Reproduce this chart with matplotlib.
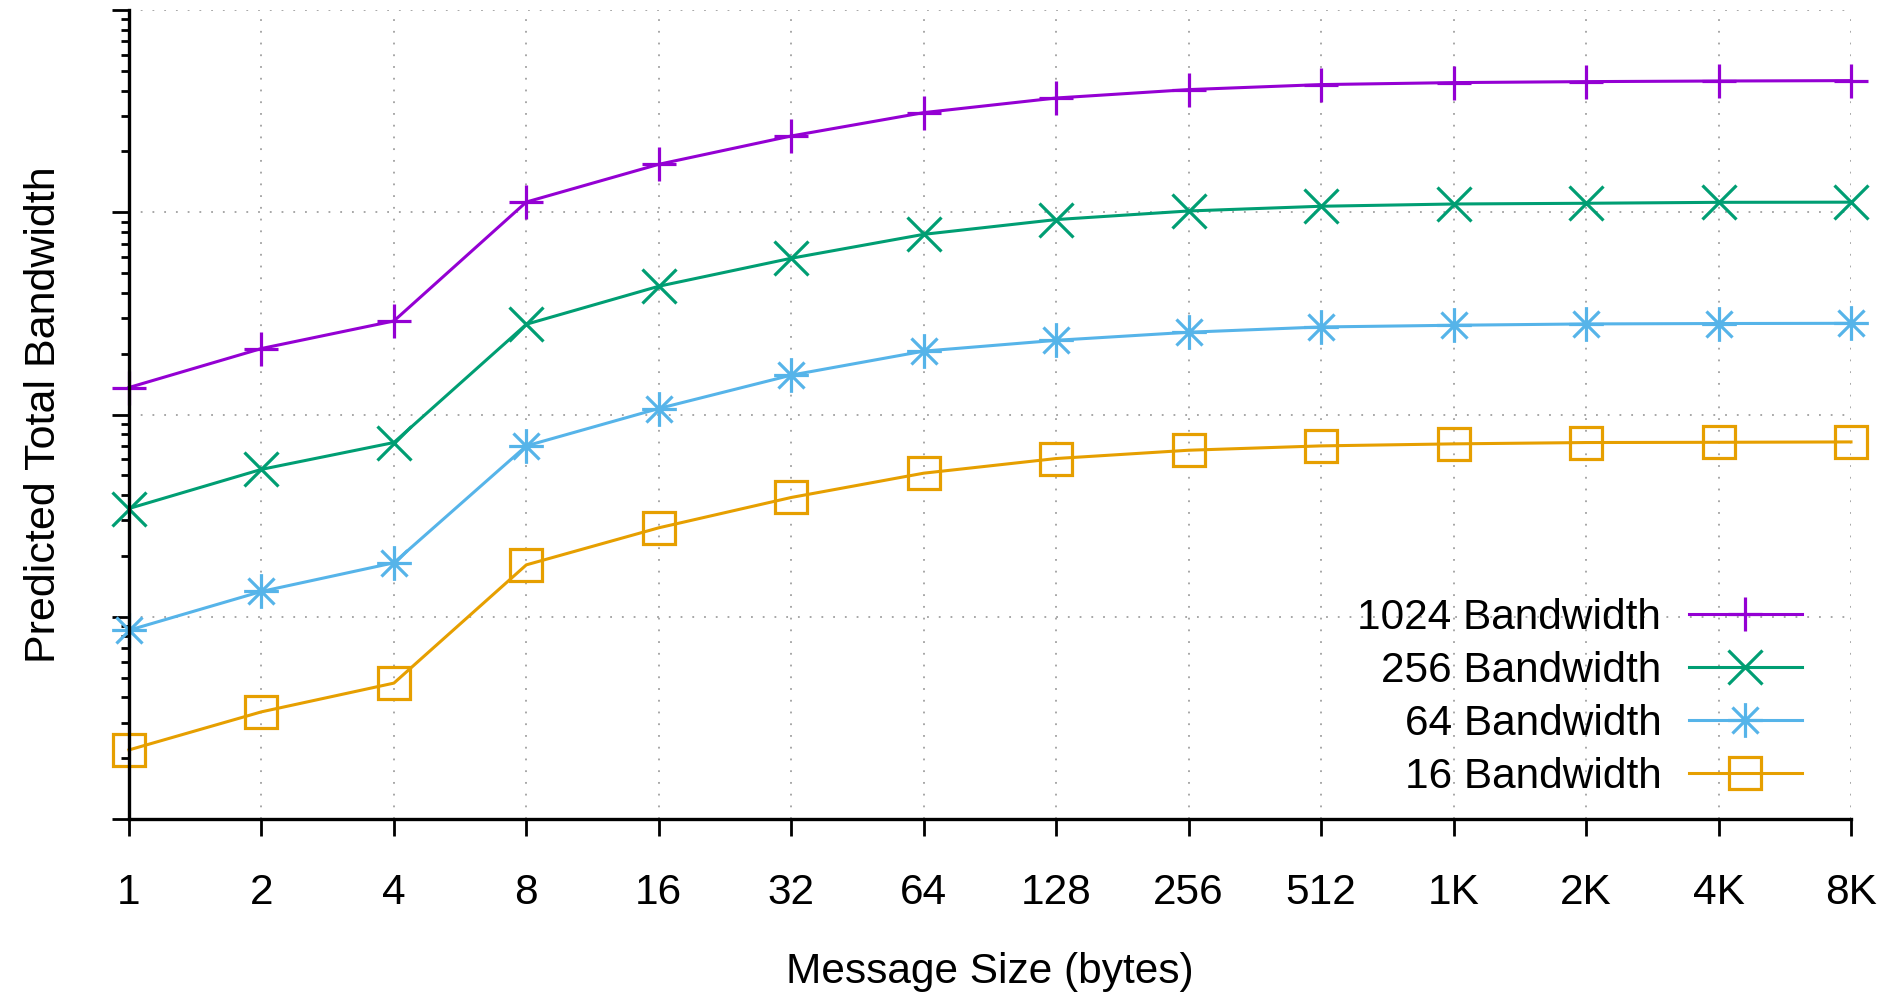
import numpy as np
import matplotlib.pyplot as plt
from matplotlib.path import Path

# message sizes (bytes) and their tick labels
sizes = [1, 2, 4, 8, 16, 32, 64, 128, 256, 512, 1024, 2048, 4096, 8192]
size_labels = ['1', '2', '4', '8', '16', '32', '64', '128', '256', '512',
               '1K', '2K', '4K', '8K']

# predicted total bandwidth (arbitrary units)
bw_1024 = [136.0, 212.0, 290.1, 1124, 1727, 2384, 3110, 3673, 4042, 4279,
           4377, 4426, 4457, 4477]
bw_256 = [34.30, 53.55, 72.70, 279.5, 430.8, 592.5, 778.0, 920.4, 1015, 1071,
          1099, 1108, 1120, 1122]
bw_64 = [8.58, 13.34, 18.49, 69.98, 107.1, 156.6, 205.8, 232.8, 255.2, 271.0,
         276.3, 280.5, 281.8, 282.5]
bw_16 = [2.196, 3.388, 4.699, 18.06, 27.54, 38.9, 51.29, 60.6, 66.6, 69.98,
         71.6, 72.7, 72.9, 73.2]

plt.rcParams['font.family'] = ['Liberation Sans', 'DejaVu Sans']
plt.rcParams['font.size'] = 30.5

# gnuplot style asterisk: + and x on top of each other
star = Path([(-1, 0), (1, 0), (0, -1), (0, 1),
             (-0.75, -0.75), (0.75, 0.75), (-0.75, 0.75), (0.75, -0.75)],
            [Path.MOVETO, Path.LINETO] * 4)

fig = plt.figure(figsize=(18.88, 9.93), dpi=100)
ax = fig.add_axes([0.0683, 0.1752, 0.9804 - 0.0683, 0.9899 - 0.1752])

ax.plot(sizes, bw_1024, color='#9400d3', lw=2.2, marker='+', ms=24, mew=2.3,
        label='1024 Bandwidth', clip_on=False)
ax.plot(sizes, bw_256, color='#009e73', lw=2.2, marker='x', ms=24, mew=2.3,
        label='256 Bandwidth', clip_on=False)
ax.plot(sizes, bw_64, color='#56b4e9', lw=2.2, marker=star, ms=25, mew=2.3,
        label='64 Bandwidth', clip_on=False)
ax.plot(sizes, bw_16, color='#e69f00', lw=2.2, marker='s', ms=23, mew=2.3,
        mfc='none', label='16 Bandwidth', clip_on=False)

ax.set_xscale('log', base=2)
ax.set_yscale('log')
ax.set_xlim(1, 8192)
ax.set_ylim(1, 1e4)
ax.set_xticks(sizes)
ax.set_xticklabels(size_labels)
ax.xaxis.set_minor_locator(plt.NullLocator())
ax.set_yticks([1, 10, 100, 1000, 10000])
ax.yaxis.set_major_formatter(plt.NullFormatter())
ax.yaxis.set_minor_formatter(plt.NullFormatter())

for s in ['top', 'right']:
    ax.spines[s].set_visible(False)
for s in ['left', 'bottom']:
    ax.spines[s].set_linewidth(2.4)
ax.tick_params(which='major', direction='out', length=12, width=2, pad=27)
ax.tick_params(which='minor', direction='out', length=5.5, width=2)

ax.grid(True, which='major', color='#a0a0a0', linestyle=(0, (1, 5.5)), lw=1.3)

ax.set_xlabel('Message Size (bytes)', labelpad=28)
ax.set_ylabel('Predicted Total Bandwidth', labelpad=8, fontsize=31)

ax.legend(loc='lower right', bbox_to_anchor=(0.9715, 0.027), frameon=False,
          markerfirst=False, numpoints=1, handlelength=2.67,
          handletextpad=0.65, labelspacing=0.31, borderpad=0, borderaxespad=0)

plt.savefig('out.png', dpi=100)
